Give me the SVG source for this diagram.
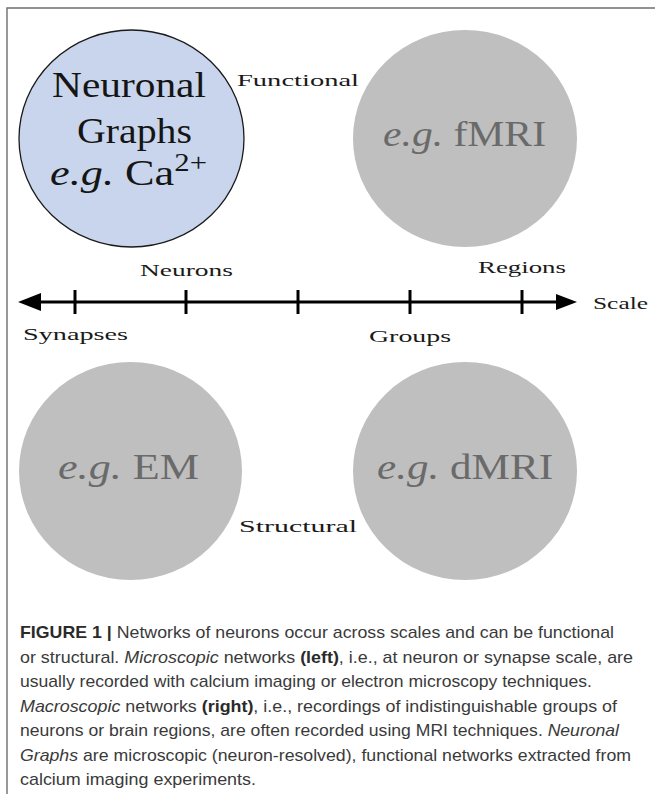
<svg xmlns="http://www.w3.org/2000/svg" width="655" height="794" viewBox="0 0 655 794">
<style>
.frame{fill:none;stroke:#6e6e6e;stroke-width:1.4}
.blob{fill:#bfbfbf}
.hl{fill:#c9d5ec;stroke:#1a1a1a;stroke-width:1.3}
.big{font-family:"Liberation Serif","Times New Roman",serif;font-size:36px}
.dark{fill:#151515}
.grey{fill:#6a6a6a}
.lab{font-family:"Liberation Serif","Times New Roman",serif;font-size:17px;fill:#1a1a1a}
.it{font-style:italic}
.axis{stroke:#000;stroke-width:3;fill:none}
.head{fill:#000}
.cap{font-family:"Liberation Sans",Arial,sans-serif;font-size:17px;fill:#3a3a3a}
.b{font-weight:bold;fill:#2a2a2a}
</style>
<rect width="655" height="794" fill="#fff"/>
<path class="frame" d="M7,794 V8 H655"/>

<g id="neuronal-graphs">
<ellipse class="hl" cx="131.5" cy="138.5" rx="112.5" ry="108.5"/>
<text class="big dark" x="52" y="97" textLength="154" lengthAdjust="spacingAndGlyphs">Neuronal</text>
<text class="big dark" x="77" y="143" textLength="115" lengthAdjust="spacingAndGlyphs">Graphs</text>
<text class="big dark" x="50" y="185" textLength="157" lengthAdjust="spacingAndGlyphs"><tspan class="it">e.g.</tspan> Ca<tspan font-size="25" dy="-14">2+</tspan></text>
</g>

<g id="fmri">
<ellipse class="blob" cx="465" cy="138.5" rx="112" ry="108.5"/>
<text class="big grey" x="383" y="146" textLength="163" lengthAdjust="spacingAndGlyphs"><tspan class="it">e.g.</tspan> fMRI</text>
</g>

<g id="em">
<ellipse class="blob" cx="130.5" cy="471" rx="111.5" ry="109"/>
<text class="big grey" x="58" y="479" textLength="141" lengthAdjust="spacingAndGlyphs"><tspan class="it">e.g.</tspan> EM</text>
</g>

<g id="dmri">
<ellipse class="blob" cx="465" cy="471" rx="112" ry="109"/>
<text class="big grey" x="377" y="479" textLength="176" lengthAdjust="spacingAndGlyphs"><tspan class="it">e.g.</tspan> dMRI</text>
</g>

<g id="labels">
<text class="lab" x="237" y="86" textLength="122" lengthAdjust="spacingAndGlyphs">Functional</text>
<text class="lab" x="239" y="532" textLength="118" lengthAdjust="spacingAndGlyphs">Structural</text>
<text class="lab" x="140" y="276" textLength="93" lengthAdjust="spacingAndGlyphs">Neurons</text>
<text class="lab" x="478" y="273" textLength="88" lengthAdjust="spacingAndGlyphs">Regions</text>
<text class="lab" x="593" y="309" textLength="55" lengthAdjust="spacingAndGlyphs">Scale</text>
<text class="lab" x="23" y="340" textLength="105" lengthAdjust="spacingAndGlyphs">Synapses</text>
<text class="lab" x="369" y="342" textLength="82" lengthAdjust="spacingAndGlyphs">Groups</text>
</g>

<g id="connectors">
<line class="axis" x1="38" y1="302" x2="558" y2="302"/>
<polygon class="head" points="18,302 41,293 41,311"/>
<polygon class="head" points="577,302 556,294 556,310"/>
<line class="axis" x1="75" y1="290" x2="75" y2="314"/>
<line class="axis" x1="186" y1="290" x2="186" y2="314"/>
<line class="axis" x1="298" y1="290" x2="298" y2="314"/>
<line class="axis" x1="410" y1="290" x2="410" y2="314"/>
<line class="axis" x1="522" y1="290" x2="522" y2="314"/>
</g>

<g id="caption">
<text class="cap" x="20" y="638" textLength="594" lengthAdjust="spacingAndGlyphs"><tspan class="b">FIGURE 1 |</tspan> Networks of neurons occur across scales and can be functional</text>
<text class="cap" x="20" y="662.5" textLength="613" lengthAdjust="spacingAndGlyphs">or structural. <tspan class="it">Microscopic</tspan> networks <tspan class="b">(left)</tspan>, i.e., at neuron or synapse scale, are</text>
<text class="cap" x="20" y="687" textLength="572" lengthAdjust="spacingAndGlyphs">usually recorded with calcium imaging or electron microscopy techniques.</text>
<text class="cap" x="20" y="711.5" textLength="597" lengthAdjust="spacingAndGlyphs"><tspan class="it">Macroscopic</tspan> networks <tspan class="b">(right)</tspan>, i.e., recordings of indistinguishable groups of</text>
<text class="cap" x="20" y="736" textLength="599" lengthAdjust="spacingAndGlyphs">neurons or brain regions, are often recorded using MRI techniques. <tspan class="it">Neuronal</tspan></text>
<text class="cap" x="20" y="760.5" textLength="611" lengthAdjust="spacingAndGlyphs"><tspan class="it">Graphs</tspan> are microscopic (neuron-resolved), functional networks extracted from</text>
<text class="cap" x="20" y="785" textLength="236" lengthAdjust="spacingAndGlyphs">calcium imaging experiments.</text>
</g>
</svg>
